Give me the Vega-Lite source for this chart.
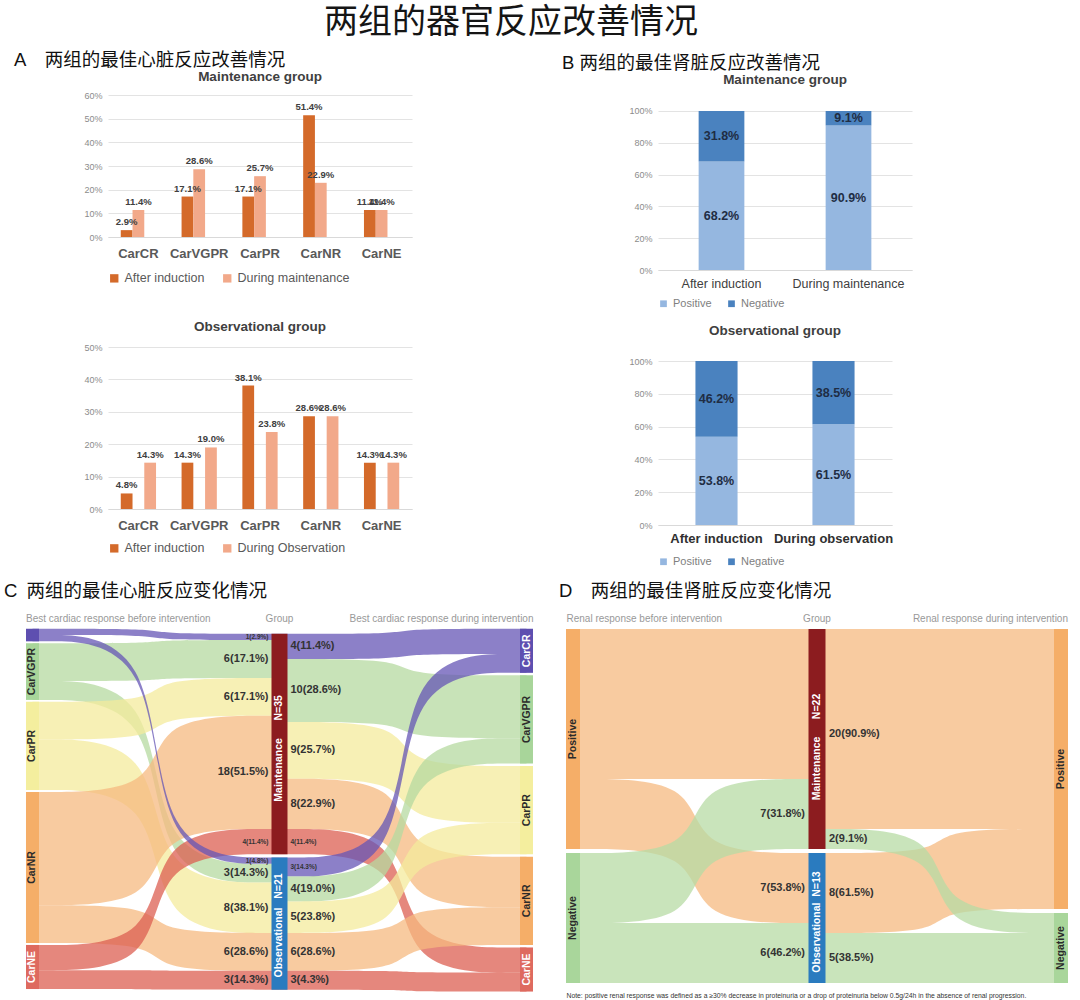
{
  "$schema": "https://vega.github.io/schema/vega-lite/v6.json",
  "background": "white",
  "padding": {"left": 3, "top": 6, "right": 3, "bottom": 0},
  "title": {"text": "两组的器官反应改善情况", "font": "Noto Sans CJK SC", "fontSize": 34, "fontWeight": "normal", "color": "#151515", "anchor": "middle", "dx": -25, "offset": 11},
  "config": {
    "view": {"stroke": null},
    "font": "Liberation Sans",
    "axisX": {"grid": false, "ticks": false, "domainColor": "#d9d9d9", "labelAngle": 0, "labelColor": "#595959", "labelFontSize": 13, "labelPadding": 7},
    "axisY": {"domain": false, "ticks": false, "labelColor": "#8c8c8c", "labelFontSize": 9, "gridColor": "#e3e3e3", "labelPadding": 6, "format": ".0%"},
    "legend": {"orient": "bottom", "direction": "horizontal", "symbolType": "square", "labelColor": "#595959", "symbolStrokeWidth": 0, "labelLimit": 300},
    "title": {"font": "Liberation Sans", "color": "#404040"}
  },
  "spacing": 15,
  "resolve": {"scale": {"color": "independent", "x": "independent", "y": "independent"}, "legend": {"color": "independent"}},
  "vconcat": [
    {
      "spacing": 149,
      "resolve": {"scale": {"color": "independent", "x": "independent", "y": "independent"}, "legend": {"color": "independent"}},
      "hconcat": [
        {
          "title": {"text": "A\u2003两组的最佳心脏反应改善情况", "anchor": "start", "dx": -70, "fontSize": 18.5, "font": "Liberation Sans, Noto Sans CJK SC", "fontWeight": "normal", "color": "#111111", "offset": 0},
          "spacing": 34,
          "resolve": {"scale": {"color": "independent", "x": "independent", "y": "independent"}, "legend": {"color": "independent"}},
          "vconcat": [
            {
              "width": 304, "height": 142,
              "title": {"text": "Maintenance group", "fontSize": 13.5, "fontWeight": "bold", "offset": 8},
              "data": {"values": [
                {"cat": "CarCR", "phase": "After induction", "v": 0.029},
                {"cat": "CarCR", "phase": "During maintenance", "v": 0.114},
                {"cat": "CarVGPR", "phase": "After induction", "v": 0.171},
                {"cat": "CarVGPR", "phase": "During maintenance", "v": 0.286},
                {"cat": "CarPR", "phase": "After induction", "v": 0.171},
                {"cat": "CarPR", "phase": "During maintenance", "v": 0.257},
                {"cat": "CarNR", "phase": "After induction", "v": 0.514},
                {"cat": "CarNR", "phase": "During maintenance", "v": 0.229},
                {"cat": "CarNE", "phase": "After induction", "v": 0.114},
                {"cat": "CarNE", "phase": "During maintenance", "v": 0.114}
              ]},
              "encoding": {
                "x": {"field": "cat", "type": "nominal", "sort": ["CarCR", "CarVGPR", "CarPR", "CarNR", "CarNE"], "title": null, "scale": {"paddingInner": 0.42, "paddingOuter": 0.21}, "axis": {"labelFontWeight": "bold", "labelPadding": 10}},
                "xOffset": {"field": "phase", "type": "nominal", "sort": ["After induction", "During maintenance"]},
                "y": {"field": "v", "type": "quantitative", "title": null, "scale": {"domain": [0, 0.6], "nice": false}, "axis": {"values": [0, 0.1, 0.2, 0.3, 0.4, 0.5, 0.6]}}
              },
              "layer": [
                {"mark": {"type": "bar"}, "encoding": {"color": {"field": "phase", "type": "nominal", "scale": {"domain": ["After induction", "During maintenance"], "range": ["#d46a2a", "#f2a98a"]}, "legend": {"title": null, "labelFontSize": 12.5, "symbolSize": 70, "offset": 12, "columnPadding": 16}}}},
                {"mark": {"type": "text", "dy": -8, "fontSize": 9.5, "fontWeight": "bold", "color": "#404040"}, "encoding": {"text": {"field": "v", "type": "quantitative", "format": ".1%"}}}
              ]
            },
            {
              "width": 304, "height": 162,
              "title": {"text": "Observational group", "fontSize": 13.5, "fontWeight": "bold", "offset": 10},
              "data": {"values": [
                {"cat": "CarCR", "phase": "After induction", "v": 0.048},
                {"cat": "CarCR", "phase": "During Observation", "v": 0.143},
                {"cat": "CarVGPR", "phase": "After induction", "v": 0.143},
                {"cat": "CarVGPR", "phase": "During Observation", "v": 0.19},
                {"cat": "CarPR", "phase": "After induction", "v": 0.381},
                {"cat": "CarPR", "phase": "During Observation", "v": 0.238},
                {"cat": "CarNR", "phase": "After induction", "v": 0.286},
                {"cat": "CarNR", "phase": "During Observation", "v": 0.286},
                {"cat": "CarNE", "phase": "After induction", "v": 0.143},
                {"cat": "CarNE", "phase": "During Observation", "v": 0.143}
              ]},
              "encoding": {
                "x": {"field": "cat", "type": "nominal", "sort": ["CarCR", "CarVGPR", "CarPR", "CarNR", "CarNE"], "title": null, "scale": {"paddingInner": 0.42, "paddingOuter": 0.21}, "axis": {"labelFontWeight": "bold", "labelPadding": 10}},
                "xOffset": {"field": "phase", "type": "nominal", "sort": ["After induction", "During Observation"]},
                "y": {"field": "v", "type": "quantitative", "title": null, "scale": {"domain": [0, 0.5], "nice": false}, "axis": {"values": [0, 0.1, 0.2, 0.3, 0.4, 0.5]}}
              },
              "layer": [
                {"mark": {"type": "bar"}, "encoding": {"color": {"field": "phase", "type": "nominal", "scale": {"domain": ["After induction", "During Observation"], "range": ["#d46a2a", "#f2a98a"]}, "legend": {"title": null, "labelFontSize": 12.5, "symbolSize": 70, "offset": 10, "columnPadding": 16}}}},
                {"mark": {"type": "text", "dy": -8, "fontSize": 9.5, "fontWeight": "bold", "color": "#404040"}, "encoding": {"text": {"field": "v", "type": "quantitative", "format": ".1%"}}}
              ]
            }
          ]
        },
        {
          "title": {"text": "B 两组的最佳肾脏反应改善情况", "anchor": "start", "dx": -67, "fontSize": 18.5, "font": "Liberation Sans, Noto Sans CJK SC", "fontWeight": "normal", "color": "#111111", "offset": 1},
          "spacing": 14,
          "resolve": {"scale": {"color": "independent", "x": "independent", "y": "independent"}, "legend": {"color": "independent"}},
          "vconcat": [
            {
              "width": 254, "height": 175,
              "title": {"text": "Maintenance group", "fontSize": 13.5, "fontWeight": "bold", "offset": 8.5},
              "data": {"values": [
                {"phase": "After induction", "r": "Positive", "v": 0.682},
                {"phase": "After induction", "r": "Negative", "v": 0.318},
                {"phase": "During maintenance", "r": "Positive", "v": 0.909},
                {"phase": "During maintenance", "r": "Negative", "v": 0.091}
              ]},
              "encoding": {
                "x": {"field": "phase", "type": "nominal", "sort": ["After induction", "During maintenance"], "title": null, "scale": {"paddingInner": 0.64, "paddingOuter": 0.32}, "axis": {"labelColor": "#404040", "labelFontSize": 12.5}},
                "y": {"field": "v", "type": "quantitative", "stack": "zero", "title": null, "scale": {"domain": [0, 1.1006], "nice": false}, "axis": {"values": [0, 0.2, 0.4, 0.6, 0.8, 1]}},
                "order": {"field": "r", "sort": "descending"}
              },
              "layer": [
                {"mark": {"type": "bar"}, "encoding": {"color": {"field": "r", "type": "nominal", "scale": {"domain": ["Positive", "Negative"], "range": ["#95b7e0", "#4a82bf"]}, "legend": {"title": null, "labelFontSize": 11, "labelColor": "#808080", "symbolSize": 45, "offset": 8, "columnPadding": 14}}}},
                {"mark": {"type": "text", "fontSize": 12.5, "fontWeight": "bold", "color": "#1f2d44"}, "encoding": {"y": {"field": "v", "type": "quantitative", "stack": "zero", "bandPosition": 0.5}, "detail": {"field": "r"}, "text": {"field": "v", "type": "quantitative", "format": ".1%"}}}
              ]
            },
            {
              "width": 234, "height": 164,
              "title": {"text": "Observational group", "fontSize": 13.5, "fontWeight": "bold", "offset": 20},
              "data": {"values": [
                {"phase": "After induction", "r": "Positive", "v": 0.538},
                {"phase": "After induction", "r": "Negative", "v": 0.462},
                {"phase": "During observation", "r": "Positive", "v": 0.615},
                {"phase": "During observation", "r": "Negative", "v": 0.385}
              ]},
              "encoding": {
                "x": {"field": "phase", "type": "nominal", "sort": ["After induction", "During observation"], "title": null, "scale": {"paddingInner": 0.64, "paddingOuter": 0.32}, "axis": {"labelColor": "#303030", "labelFontSize": 13, "labelFontWeight": "bold"}},
                "y": {"field": "v", "type": "quantitative", "stack": "zero", "title": null, "scale": {"domain": [0, 1], "nice": false}, "axis": {"values": [0, 0.2, 0.4, 0.6, 0.8, 1]}},
                "order": {"field": "r", "sort": "descending"}
              },
              "layer": [
                {"mark": {"type": "bar"}, "encoding": {"color": {"field": "r", "type": "nominal", "scale": {"domain": ["Positive", "Negative"], "range": ["#95b7e0", "#4a82bf"]}, "legend": {"title": null, "labelFontSize": 11, "labelColor": "#808080", "symbolSize": 45, "offset": 11, "columnPadding": 14}}}},
                {"mark": {"type": "text", "fontSize": 12.5, "fontWeight": "bold", "color": "#1f2d44"}, "encoding": {"y": {"field": "v", "type": "quantitative", "stack": "zero", "bandPosition": 0.5}, "detail": {"field": "r"}, "text": {"field": "v", "type": "quantitative", "format": ".1%"}}}
              ]
            }
          ]
        }
      ]
    },
    {
      "spacing": 25,
      "resolve": {"scale": {"color": "independent", "x": "independent", "y": "independent"}, "legend": {"color": "independent"}},
      "hconcat": [
        {
          "title": {"text": "C\u2002两组的最佳心脏反应变化情况", "anchor": "start", "dx": -22, "fontSize": 18.5, "font": "Liberation Sans, Noto Sans CJK SC", "fontWeight": "normal", "color": "#111111", "offset": 12.5},
          "width": 418.5, "height": 388,
          "resolve": {"scale": {"color": "independent"}},
          "layer": [
            {
              "data": {"values": [
                {"f": "c01", "n": "CarVGPR", "x": 0, "a": 2.3, "b": 8.3}, {"f": "c01", "n": "CarVGPR", "x": 0.5, "a": 2.3, "b": 8.3}, {"f": "c01", "n": "CarVGPR", "x": 0.5, "a": 1.8, "b": 7.8}, {"f": "c01", "n": "CarVGPR", "x": 1, "a": 1.8, "b": 7.8},
                {"f": "c02", "n": "CarVGPR", "x": 0, "a": 8.3, "b": 11.3}, {"f": "c02", "n": "CarVGPR", "x": 0.5, "a": 8.3, "b": 11.3}, {"f": "c02", "n": "CarVGPR", "x": 0.5, "a": 37.3, "b": 40.3}, {"f": "c02", "n": "CarVGPR", "x": 1, "a": 37.3, "b": 40.3},
                {"f": "c03", "n": "CarPR", "x": 0, "a": 11.6, "b": 17.6}, {"f": "c03", "n": "CarPR", "x": 0.5, "a": 11.6, "b": 17.6}, {"f": "c03", "n": "CarPR", "x": 0.5, "a": 7.8, "b": 13.8}, {"f": "c03", "n": "CarPR", "x": 1, "a": 7.8, "b": 13.8},
                {"f": "c04", "n": "CarPR", "x": 0, "a": 17.6, "b": 25.6}, {"f": "c04", "n": "CarPR", "x": 0.5, "a": 17.6, "b": 25.6}, {"f": "c04", "n": "CarPR", "x": 0.5, "a": 40.3, "b": 48.3}, {"f": "c04", "n": "CarPR", "x": 1, "a": 40.3, "b": 48.3},
                {"f": "c05", "n": "CarNR", "x": 0, "a": 25.9, "b": 43.9}, {"f": "c05", "n": "CarNR", "x": 0.5, "a": 25.9, "b": 43.9}, {"f": "c05", "n": "CarNR", "x": 0.5, "a": 13.8, "b": 31.8}, {"f": "c05", "n": "CarNR", "x": 1, "a": 13.8, "b": 31.8},
                {"f": "c06", "n": "CarNR", "x": 0, "a": 43.9, "b": 49.9}, {"f": "c06", "n": "CarNR", "x": 0.5, "a": 43.9, "b": 49.9}, {"f": "c06", "n": "CarNR", "x": 0.5, "a": 48.3, "b": 54.3}, {"f": "c06", "n": "CarNR", "x": 1, "a": 48.3, "b": 54.3},
                {"f": "c07", "n": "CarNE", "x": 0, "a": 50.2, "b": 54.2}, {"f": "c07", "n": "CarNE", "x": 0.5, "a": 50.2, "b": 54.2}, {"f": "c07", "n": "CarNE", "x": 0.5, "a": 31.8, "b": 35.8}, {"f": "c07", "n": "CarNE", "x": 1, "a": 31.8, "b": 35.8},
                {"f": "c08", "n": "CarNE", "x": 0, "a": 54.2, "b": 57.2}, {"f": "c08", "n": "CarNE", "x": 0.5, "a": 54.2, "b": 57.2}, {"f": "c08", "n": "CarNE", "x": 0.5, "a": 54.3, "b": 57.3}, {"f": "c08", "n": "CarNE", "x": 1, "a": 54.3, "b": 57.3},
                {"f": "c09", "n": "CarCR", "x": 0, "a": 0, "b": 1}, {"f": "c09", "n": "CarCR", "x": 0.5, "a": 0, "b": 1}, {"f": "c09", "n": "CarCR", "x": 0.5, "a": 0.8, "b": 1.8}, {"f": "c09", "n": "CarCR", "x": 1, "a": 0.8, "b": 1.8},
                {"f": "c10", "n": "CarCR", "x": 0, "a": 1, "b": 2}, {"f": "c10", "n": "CarCR", "x": 0.5, "a": 1, "b": 2}, {"f": "c10", "n": "CarCR", "x": 0.5, "a": 36.3, "b": 37.3}, {"f": "c10", "n": "CarCR", "x": 1, "a": 36.3, "b": 37.3},
                {"f": "c11", "n": "CarVGPR", "x": 1, "a": 4.8, "b": 14.8}, {"f": "c11", "n": "CarVGPR", "x": 1.5, "a": 4.8, "b": 14.8}, {"f": "c11", "n": "CarVGPR", "x": 1.5, "a": 7.4, "b": 17.4}, {"f": "c11", "n": "CarVGPR", "x": 2, "a": 7.4, "b": 17.4},
                {"f": "c12", "n": "CarPR", "x": 1, "a": 14.8, "b": 23.8}, {"f": "c12", "n": "CarPR", "x": 1.5, "a": 14.8, "b": 23.8}, {"f": "c12", "n": "CarPR", "x": 1.5, "a": 21.8, "b": 30.8}, {"f": "c12", "n": "CarPR", "x": 2, "a": 21.8, "b": 30.8},
                {"f": "c13", "n": "CarNR", "x": 1, "a": 23.8, "b": 31.8}, {"f": "c13", "n": "CarNR", "x": 1.5, "a": 23.8, "b": 31.8}, {"f": "c13", "n": "CarNR", "x": 1.5, "a": 36.2, "b": 44.2}, {"f": "c13", "n": "CarNR", "x": 2, "a": 36.2, "b": 44.2},
                {"f": "c14", "n": "CarNE", "x": 1, "a": 31.8, "b": 35.8}, {"f": "c14", "n": "CarNE", "x": 1.5, "a": 31.8, "b": 35.8}, {"f": "c14", "n": "CarNE", "x": 1.5, "a": 50.6, "b": 54.6}, {"f": "c14", "n": "CarNE", "x": 2, "a": 50.6, "b": 54.6},
                {"f": "c15", "n": "CarVGPR", "x": 1, "a": 39.3, "b": 43.3}, {"f": "c15", "n": "CarVGPR", "x": 1.5, "a": 39.3, "b": 43.3}, {"f": "c15", "n": "CarVGPR", "x": 1.5, "a": 17.4, "b": 21.4}, {"f": "c15", "n": "CarVGPR", "x": 2, "a": 17.4, "b": 21.4},
                {"f": "c16", "n": "CarPR", "x": 1, "a": 43.3, "b": 48.3}, {"f": "c16", "n": "CarPR", "x": 1.5, "a": 43.3, "b": 48.3}, {"f": "c16", "n": "CarPR", "x": 1.5, "a": 30.8, "b": 35.8}, {"f": "c16", "n": "CarPR", "x": 2, "a": 30.8, "b": 35.8},
                {"f": "c17", "n": "CarNR", "x": 1, "a": 48.3, "b": 54.3}, {"f": "c17", "n": "CarNR", "x": 1.5, "a": 48.3, "b": 54.3}, {"f": "c17", "n": "CarNR", "x": 1.5, "a": 44.2, "b": 50.2}, {"f": "c17", "n": "CarNR", "x": 2, "a": 44.2, "b": 50.2},
                {"f": "c18", "n": "CarNE", "x": 1, "a": 54.3, "b": 57.3}, {"f": "c18", "n": "CarNE", "x": 1.5, "a": 54.3, "b": 57.3}, {"f": "c18", "n": "CarNE", "x": 1.5, "a": 54.6, "b": 57.6}, {"f": "c18", "n": "CarNE", "x": 2, "a": 54.6, "b": 57.6},
                {"f": "c19", "n": "CarCR", "x": 1, "a": 0.8, "b": 4.8}, {"f": "c19", "n": "CarCR", "x": 1.5, "a": 0.8, "b": 4.8}, {"f": "c19", "n": "CarCR", "x": 1.5, "a": 0, "b": 4}, {"f": "c19", "n": "CarCR", "x": 2, "a": 0, "b": 4},
                {"f": "c20", "n": "CarCR", "x": 1, "a": 36.3, "b": 39.3}, {"f": "c20", "n": "CarCR", "x": 1.5, "a": 36.3, "b": 39.3}, {"f": "c20", "n": "CarCR", "x": 1.5, "a": 4, "b": 7}, {"f": "c20", "n": "CarCR", "x": 2, "a": 4, "b": 7}
              ]},
              "mark": {"type": "area", "interpolate": "basis", "opacity": 0.75},
              "encoding": {
                "x": {"field": "x", "type": "quantitative", "scale": {"domain": [0.3057, 2], "nice": false, "zero": false, "padding": 0}, "axis": null},
                "y": {"field": "a", "type": "quantitative", "scale": {"domain": [-2.5, 59.1], "reverse": true, "nice": false, "zero": false, "padding": 0}, "axis": null},
                "y2": {"field": "b"},
                "detail": {"field": "f"},
                "color": {"field": "n", "type": "nominal", "scale": {"domain": ["CarCR", "CarVGPR", "CarPR", "CarNR", "CarNE"], "range": ["#6555b5", "#b5d9a0", "#f4eb9c", "#f5b980", "#dc5f51"]}, "legend": null}
              }
            },
            {
              "data": {"values": [
                {"n": "CarCR", "col": 0, "y0": 0, "y1": 2},
                {"n": "CarVGPR", "col": 0, "y0": 2.3, "y1": 11.3},
                {"n": "CarPR", "col": 0, "y0": 11.6, "y1": 25.6},
                {"n": "CarNR", "col": 0, "y0": 25.9, "y1": 49.9},
                {"n": "CarNE", "col": 0, "y0": 50.2, "y1": 57.2},
                {"n": "CarCR", "col": 2, "y0": 0, "y1": 7},
                {"n": "CarVGPR", "col": 2, "y0": 7.4, "y1": 21.4},
                {"n": "CarPR", "col": 2, "y0": 21.8, "y1": 35.8},
                {"n": "CarNR", "col": 2, "y0": 36.2, "y1": 50.2},
                {"n": "CarNE", "col": 2, "y0": 50.6, "y1": 57.6}
              ]},
              "mark": {"type": "bar", "width": 13},
              "encoding": {
                "x": {"field": "col", "type": "quantitative", "axis": null},
                "y": {"field": "y0", "type": "quantitative", "axis": null},
                "y2": {"field": "y1"},
                "color": {"field": "n", "type": "nominal", "scale": {"domain": ["CarCR", "CarVGPR", "CarPR", "CarNR", "CarNE"], "range": ["#5e4fb0", "#a8d59a", "#f4ee9e", "#f5ae68", "#de6a5f"]}, "legend": null}
              }
            },
            {
              "data": {"values": [
                {"n": "Maintenance", "col": 1, "y0": 0.8, "y1": 35.8},
                {"n": "Observational", "col": 1, "y0": 36.3, "y1": 57.3}
              ]},
              "mark": {"type": "bar", "width": 16},
              "encoding": {
                "x": {"field": "col", "type": "quantitative", "axis": null},
                "y": {"field": "y0", "type": "quantitative", "axis": null},
                "y2": {"field": "y1"},
                "color": {"field": "n", "type": "nominal", "scale": {"domain": ["Maintenance", "Observational"], "range": ["#8c1c1f", "#2a7bbf"]}, "legend": null}
              }
            },
            {
              "data": {"values": [
                {"n": "CarVGPR", "col": 0, "y": 6.8, "t": "CarVGPR"},
                {"n": "CarPR", "col": 0, "y": 18.6, "t": "CarPR"},
                {"n": "CarNR", "col": 0, "y": 37.9, "t": "CarNR"},
                {"n": "CarNE", "col": 0, "y": 53.7, "t": "CarNE"},
                {"n": "Maintenance", "col": 1, "y": 19.0, "t": "Maintenance\u00a0\u00a0\u00a0\u00a0\u00a0\u00a0N=35"},
                {"n": "Observational", "col": 1, "y": 47.1, "t": "Observational\u00a0\u00a0\u00a0N=21"},
                {"n": "CarCR", "col": 2, "y": 3.5, "t": "CarCR"},
                {"n": "CarVGPR", "col": 2, "y": 14.4, "t": "CarVGPR"},
                {"n": "CarPR", "col": 2, "y": 28.8, "t": "CarPR"},
                {"n": "CarNR", "col": 2, "y": 43.2, "t": "CarNR"},
                {"n": "CarNE", "col": 2, "y": 54.1, "t": "CarNE"}
              ]},
              "mark": {"type": "text", "angle": 270, "fontSize": 10.5, "fontWeight": "bold", "align": "center", "baseline": "middle"},
              "encoding": {
                "x": {"field": "col", "type": "quantitative", "axis": null},
                "y": {"field": "y", "type": "quantitative", "axis": null},
                "text": {"field": "t"},
                "color": {"condition": {"test": "datum.n === 'CarCR' || datum.n === 'CarNE' || datum.n === 'Maintenance' || datum.n === 'Observational'", "value": "#ffffff"}, "value": "#2b2b2b"}
              }
            },
            {
              "data": {"values": [
                {"y": 4.8, "t": "6(17.1%)"},
                {"y": 10.8, "t": "6(17.1%)"},
                {"y": 22.8, "t": "18(51.5%)"},
                {"y": 38.8, "t": "3(14.3%)"},
                {"y": 44.3, "t": "8(38.1%)"},
                {"y": 51.3, "t": "6(28.6%)"},
                {"y": 55.8, "t": "3(14.3%)"}
              ]},
              "mark": {"type": "text", "align": "right", "dx": -11, "fontSize": 11, "fontWeight": "bold", "color": "#333333"},
              "encoding": {"x": {"datum": 1, "axis": null}, "y": {"field": "y", "type": "quantitative", "axis": null}, "text": {"field": "t"}}
            },
            {
              "data": {"values": [
                {"y": 1.3, "t": "1(2.9%)"},
                {"y": 33.8, "t": "4(11.4%)"},
                {"y": 36.8, "t": "1(4.8%)"}
              ]},
              "mark": {"type": "text", "align": "right", "dx": -11, "fontSize": 6.5, "fontWeight": "bold", "color": "#333333"},
              "encoding": {"x": {"datum": 1, "axis": null}, "y": {"field": "y", "type": "quantitative", "axis": null}, "text": {"field": "t"}}
            },
            {
              "data": {"values": [
                {"y": 2.8, "t": "4(11.4%)"},
                {"y": 9.8, "t": "10(28.6%)"},
                {"y": 19.3, "t": "9(25.7%)"},
                {"y": 27.8, "t": "8(22.9%)"},
                {"y": 41.3, "t": "4(19.0%)"},
                {"y": 45.8, "t": "5(23.8%)"},
                {"y": 51.3, "t": "6(28.6%)"},
                {"y": 55.8, "t": "3(4.3%)"}
              ]},
              "mark": {"type": "text", "align": "left", "dx": 11, "fontSize": 11, "fontWeight": "bold", "color": "#333333"},
              "encoding": {"x": {"datum": 1, "axis": null}, "y": {"field": "y", "type": "quantitative", "axis": null}, "text": {"field": "t"}}
            },
            {
              "data": {"values": [
                {"y": 33.8, "t": "4(11.4%)"},
                {"y": 37.8, "t": "3(14.3%)"}
              ]},
              "mark": {"type": "text", "align": "left", "dx": 11, "fontSize": 6.5, "fontWeight": "bold", "color": "#333333"},
              "encoding": {"x": {"datum": 1, "axis": null}, "y": {"field": "y", "type": "quantitative", "axis": null}, "text": {"field": "t"}}
            },
            {
              "data": {"values": [{"t": "Best cardiac response before intervention"}]},
              "mark": {"type": "text", "align": "left", "dx": -6.5, "fontSize": 10, "color": "#999999"},
              "encoding": {"x": {"datum": 0, "axis": null}, "y": {"datum": -1.6, "axis": null}, "text": {"field": "t"}}
            },
            {
              "data": {"values": [{"t": "Group"}]},
              "mark": {"type": "text", "align": "center", "fontSize": 10, "color": "#999999"},
              "encoding": {"x": {"datum": 1, "axis": null}, "y": {"datum": -1.6, "axis": null}, "text": {"field": "t"}}
            },
            {
              "data": {"values": [{"t": "Best cardiac response during intervention"}]},
              "mark": {"type": "text", "align": "right", "dx": 7, "fontSize": 10, "color": "#999999"},
              "encoding": {"x": {"datum": 2, "axis": null}, "y": {"datum": -1.6, "axis": null}, "text": {"field": "t"}}
            }
          ]
        },
        {
          "title": {"text": "D\u2003两组的最佳肾脏反应变化情况", "anchor": "start", "dx": -7, "fontSize": 18.5, "font": "Liberation Sans, Noto Sans CJK SC", "fontWeight": "normal", "color": "#111111", "offset": 12.5},
          "width": 488, "height": 388,
          "resolve": {"scale": {"color": "independent"}},
          "layer": [
            {
              "data": {"values": [
                {"f": "d1", "n": "Positive", "x": 0, "a": 0, "b": 15}, {"f": "d1", "n": "Positive", "x": 0.5, "a": 0, "b": 15}, {"f": "d1", "n": "Positive", "x": 0.5, "a": 0, "b": 15}, {"f": "d1", "n": "Positive", "x": 1, "a": 0, "b": 15},
                {"f": "d2", "n": "Positive", "x": 0, "a": 15, "b": 22}, {"f": "d2", "n": "Positive", "x": 0.5, "a": 15, "b": 22}, {"f": "d2", "n": "Positive", "x": 0.5, "a": 22.4, "b": 29.4}, {"f": "d2", "n": "Positive", "x": 1, "a": 22.4, "b": 29.4},
                {"f": "d3", "n": "Negative", "x": 0, "a": 22.4, "b": 29.4}, {"f": "d3", "n": "Negative", "x": 0.5, "a": 22.4, "b": 29.4}, {"f": "d3", "n": "Negative", "x": 0.5, "a": 15, "b": 22}, {"f": "d3", "n": "Negative", "x": 1, "a": 15, "b": 22},
                {"f": "d4", "n": "Negative", "x": 0, "a": 29.4, "b": 35.4}, {"f": "d4", "n": "Negative", "x": 0.5, "a": 29.4, "b": 35.4}, {"f": "d4", "n": "Negative", "x": 0.5, "a": 29.4, "b": 35.4}, {"f": "d4", "n": "Negative", "x": 1, "a": 29.4, "b": 35.4},
                {"f": "d5", "n": "Positive", "x": 1, "a": 0, "b": 20}, {"f": "d5", "n": "Positive", "x": 1.5, "a": 0, "b": 20}, {"f": "d5", "n": "Positive", "x": 1.5, "a": 0, "b": 20}, {"f": "d5", "n": "Positive", "x": 2, "a": 0, "b": 20},
                {"f": "d6", "n": "Positive", "x": 1, "a": 22.4, "b": 30.4}, {"f": "d6", "n": "Positive", "x": 1.5, "a": 22.4, "b": 30.4}, {"f": "d6", "n": "Positive", "x": 1.5, "a": 20, "b": 28}, {"f": "d6", "n": "Positive", "x": 2, "a": 20, "b": 28},
                {"f": "d7", "n": "Negative", "x": 1, "a": 20, "b": 22}, {"f": "d7", "n": "Negative", "x": 1.5, "a": 20, "b": 22}, {"f": "d7", "n": "Negative", "x": 1.5, "a": 28.4, "b": 30.4}, {"f": "d7", "n": "Negative", "x": 2, "a": 28.4, "b": 30.4},
                {"f": "d8", "n": "Negative", "x": 1, "a": 30.4, "b": 35.4}, {"f": "d8", "n": "Negative", "x": 1.5, "a": 30.4, "b": 35.4}, {"f": "d8", "n": "Negative", "x": 1.5, "a": 30.4, "b": 35.4}, {"f": "d8", "n": "Negative", "x": 2, "a": 30.4, "b": 35.4}
              ]},
              "mark": {"type": "area", "interpolate": "basis", "opacity": 0.75},
              "encoding": {
                "x": {"field": "x", "type": "quantitative", "scale": {"domain": [0, 2], "nice": false, "zero": false, "padding": 0}, "axis": null},
                "y": {"field": "a", "type": "quantitative", "scale": {"domain": [-1.6, 37.2], "reverse": true, "nice": false, "zero": false, "padding": 0}, "axis": null},
                "y2": {"field": "b"},
                "detail": {"field": "f"},
                "color": {"field": "n", "type": "nominal", "scale": {"domain": ["Positive", "Negative"], "range": ["#f5b980", "#b7dba4"]}, "legend": null}
              }
            },
            {
              "data": {"values": [
                {"n": "Positive", "col": 0, "y0": 0, "y1": 22},
                {"n": "Negative", "col": 0, "y0": 22.4, "y1": 35.4},
                {"n": "Positive", "col": 2, "y0": 0, "y1": 28},
                {"n": "Negative", "col": 2, "y0": 28.4, "y1": 35.4}
              ]},
              "mark": {"type": "bar", "width": 14},
              "encoding": {
                "x": {"field": "col", "type": "quantitative", "axis": null},
                "y": {"field": "y0", "type": "quantitative", "axis": null},
                "y2": {"field": "y1"},
                "color": {"field": "n", "type": "nominal", "scale": {"domain": ["Positive", "Negative"], "range": ["#f5ae68", "#a9d69b"]}, "legend": null}
              }
            },
            {
              "data": {"values": [
                {"n": "Maintenance", "col": 1, "y0": 0, "y1": 22},
                {"n": "Observational", "col": 1, "y0": 22.4, "y1": 35.4}
              ]},
              "mark": {"type": "bar", "width": 17},
              "encoding": {
                "x": {"field": "col", "type": "quantitative", "axis": null},
                "y": {"field": "y0", "type": "quantitative", "axis": null},
                "y2": {"field": "y1"},
                "color": {"field": "n", "type": "nominal", "scale": {"domain": ["Maintenance", "Observational"], "range": ["#8c1c1f", "#2a7bbf"]}, "legend": null}
              }
            },
            {
              "data": {"values": [
                {"n": "Positive", "col": 0, "y": 11, "t": "Positive"},
                {"n": "Negative", "col": 0, "y": 28.9, "t": "Negative"},
                {"n": "Maintenance", "col": 1, "y": 11.8, "t": "Maintenance\u00a0\u00a0\u00a0\u00a0\u00a0\u00a0N=22"},
                {"n": "Observational", "col": 1, "y": 29.3, "t": "Observational\u00a0\u00a0N=13"},
                {"n": "Positive", "col": 2, "y": 14, "t": "Positive"},
                {"n": "Negative", "col": 2, "y": 31.9, "t": "Negative"}
              ]},
              "mark": {"type": "text", "angle": 270, "fontSize": 10.5, "fontWeight": "bold", "align": "center", "baseline": "middle"},
              "encoding": {
                "x": {"field": "col", "type": "quantitative", "axis": null},
                "y": {"field": "y", "type": "quantitative", "axis": null},
                "text": {"field": "t"},
                "color": {"condition": {"test": "datum.n === 'Maintenance' || datum.n === 'Observational'", "value": "#ffffff"}, "value": "#2b2b2b"}
              }
            },
            {
              "data": {"values": [
                {"y": 18.5, "t": "7(31.8%)"},
                {"y": 25.9, "t": "7(53.8%)"},
                {"y": 32.4, "t": "6(46.2%)"}
              ]},
              "mark": {"type": "text", "align": "right", "dx": -12, "fontSize": 11, "fontWeight": "bold", "color": "#333333"},
              "encoding": {"x": {"datum": 1, "axis": null}, "y": {"field": "y", "type": "quantitative", "axis": null}, "text": {"field": "t"}}
            },
            {
              "data": {"values": [
                {"y": 10.5, "t": "20(90.9%)"},
                {"y": 21, "t": "2(9.1%)"},
                {"y": 26.4, "t": "8(61.5%)"},
                {"y": 32.9, "t": "5(38.5%)"}
              ]},
              "mark": {"type": "text", "align": "left", "dx": 12, "fontSize": 11, "fontWeight": "bold", "color": "#333333"},
              "encoding": {"x": {"datum": 1, "axis": null}, "y": {"field": "y", "type": "quantitative", "axis": null}, "text": {"field": "t"}}
            },
            {
              "data": {"values": [{"t": "Renal response before intervention"}]},
              "mark": {"type": "text", "align": "left", "dx": -6.5, "fontSize": 10, "color": "#999999"},
              "encoding": {"x": {"datum": 0, "axis": null}, "y": {"datum": -1.0, "axis": null}, "text": {"field": "t"}}
            },
            {
              "data": {"values": [{"t": "Group"}]},
              "mark": {"type": "text", "align": "center", "fontSize": 10, "color": "#999999"},
              "encoding": {"x": {"datum": 1, "axis": null}, "y": {"datum": -1.0, "axis": null}, "text": {"field": "t"}}
            },
            {
              "data": {"values": [{"t": "Renal response during intervention"}]},
              "mark": {"type": "text", "align": "right", "dx": 7, "fontSize": 10, "color": "#999999"},
              "encoding": {"x": {"datum": 2, "axis": null}, "y": {"datum": -1.0, "axis": null}, "text": {"field": "t"}}
            },
            {
              "data": {"values": [{"t": "Note: positive renal response was defined as a ≥30% decrease in proteinuria or a drop of proteinuria below 0.5g/24h in the absence of renal progression."}]},
              "mark": {"type": "text", "align": "left", "dx": -6.5, "fontSize": 6.8, "color": "#333333"},
              "encoding": {"x": {"datum": 0, "axis": null}, "y": {"datum": 36.7, "axis": null}, "text": {"field": "t"}}
            }
          ]
        }
      ]
    }
  ]
}
